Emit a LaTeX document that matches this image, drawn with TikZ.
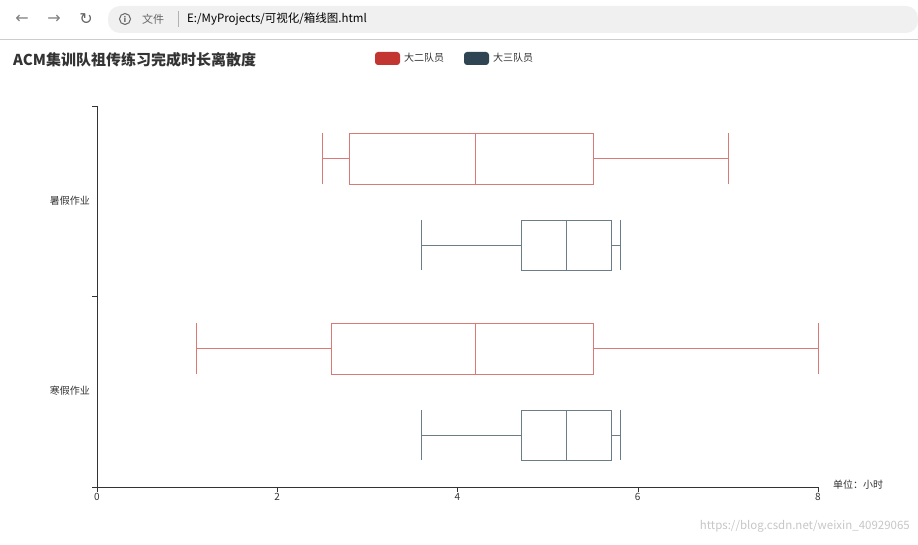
\documentclass[tikz,border=0pt]{standalone}
\usepackage{fontspec}
\setmainfont{Noto Sans CJK SC}
\newfontfamily\djv{DejaVu Sans}
\definecolor{rd}{HTML}{C23531}
\definecolor{rdl}{HTML}{DA7A77}
\definecolor{dk}{HTML}{2F4554}
\definecolor{dkl}{HTML}{6D7D88}
\definecolor{ax}{HTML}{333333}
\begin{document}
\begin{tikzpicture}[x=1pt,y=-1pt,
  lab/.style={font=\fontsize{10}{10}\selectfont,text=ax,inner sep=0pt},
  rbox/.style={draw=rdl,line width=0.9pt},
  dbox/.style={draw=dkl,line width=0.9pt}]
\useasboundingbox (0,0) rectangle (918,545);
% browser bar
\fill[white] (0,0) rectangle (918,40);
\draw[gray!40] (0,39.5) -- (918,39.5);
\fill[gray!12,rounded corners=12pt] (108,6) rectangle (918,33);
\node[lab,anchor=center,text=gray,font=\djv\fontsize{16}{16}\selectfont] (b1) at (22,19) {←};
\node[lab,anchor=center,text=gray,font=\djv\fontsize{16}{16}\selectfont] (b2) at (54,19) {→};
\node[lab,anchor=center,text=gray!80!black,font=\djv\fontsize{16}{16}\selectfont] (b3) at (86,19) {↻};
\node[circle,draw=gray!80!black,line width=1pt,minimum size=11pt,inner sep=0pt,text=gray!80!black,font=\djv\bfseries\fontsize{8}{8}\selectfont] (b4) at (125,19) {i};
\node[lab,anchor=west,text=gray!80!black,font=\fontsize{11}{11}\selectfont] (b5) at (142,19) {文件};
\draw[gray!60] (178,11) -- (178,27);
\node[lab,anchor=west,text=black,font=\fontsize{11.5}{11.5}\selectfont] (b6) at (187,19) {E:/MyProjects/可视化/箱线图.html};
% title + legend
\node[lab,anchor=west,font=\bfseries\fontsize{15}{15}\selectfont] (t) at (13,60) {ACM集训队祖传练习完成时长离散度};
\fill[rd,rounded corners=3pt] (375,52) rectangle (400,65);
\node[lab,anchor=west] (l1) at (404,58) {大二队员};
\fill[dk,rounded corners=3pt] (464,52) rectangle (489,65);
\node[lab,anchor=west] (l2) at (493,58) {大三队员};
% axes
\draw[ax] (97,106) -- (97,487) -- (818,487);
\foreach \y in {106,296,487} \draw[ax] (92,\y) -- (97,\y);
\foreach \v in {0,2,4,6,8} {
  \draw[ax] ({97+90.125*\v},487) -- ({97+90.125*\v},492);
  \node[lab,anchor=north] at ({97+90.125*\v},493) {\v};}
\node[lab,anchor=east] (c1) at (90,201) {暑假作业};
\node[lab,anchor=east] (c2) at (90,391) {寒假作业};
\node[lab,anchor=west] (u) at (833,485) {单位：小时};
% boxplots
\newcommand{\bxp}[8]{
  \draw[#1] (#3,#7) rectangle (#5,#8);
  \draw[#1] (#4,#7) -- (#4,#8);
  \draw[#1] (#2,{(#7+#8)/2}) -- (#3,{(#7+#8)/2});
  \draw[#1] (#5,{(#7+#8)/2}) -- (#6,{(#7+#8)/2});
  \draw[#1] (#2,#7) -- (#2,#8);
  \draw[#1] (#6,#7) -- (#6,#8);}
\bxp{rbox}{322}{349}{475}{593}{728}{133}{184}
\bxp{dbox}{421}{521}{566}{611}{620}{220}{270}
\bxp{rbox}{196}{331}{475}{593}{818}{323}{374}
\bxp{dbox}{421}{521}{566}{611}{620}{410}{460}
\node[lab,anchor=east,text=gray!45,font=\fontsize{11.5}{11.5}\selectfont] (w) at (910,526) {https://blog.csdn.net/weixin\_40929065};
\end{tikzpicture}
\end{document}
